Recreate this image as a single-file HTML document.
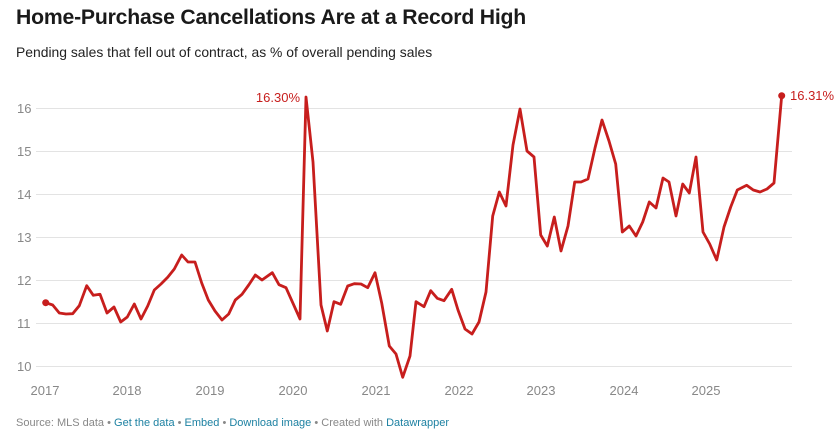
<!DOCTYPE html>
<html><head><meta charset="utf-8"><style>
body{margin:0;background:#fff;width:839px;height:435px;overflow:hidden;font-family:"Liberation Sans",Arial,sans-serif}
.t{position:absolute;left:16px;top:6px;font-size:21.2px;font-weight:bold;color:#1a1a1a;letter-spacing:-0.2px}
.s{position:absolute;left:16px;top:44px;font-size:13.9px;color:#222}
.f{position:absolute;left:16px;top:417px;font-size:11px;color:#888}
.f a{color:#1d81a2;text-decoration:none}
</style></head><body>
<div class="t">Home-Purchase Cancellations Are at a Record High</div>
<div class="s">Pending sales that fell out of contract, as % of overall pending sales</div>
<svg width="839" height="435" style="position:absolute;left:0;top:0" font-family="Liberation Sans, Arial, sans-serif">
<g stroke="#e3e3e3" stroke-width="1">
<line x1="36" x2="792" y1="108.5" y2="108.5"/><line x1="36" x2="792" y1="151.5" y2="151.5"/>
<line x1="36" x2="792" y1="194.5" y2="194.5"/><line x1="36" x2="792" y1="237.5" y2="237.5"/>
<line x1="36" x2="792" y1="280.5" y2="280.5"/><line x1="36" x2="792" y1="323.5" y2="323.5"/>
<line x1="36" x2="792" y1="366.5" y2="366.5"/>
</g>
<g fill="#888" font-size="13">
<text x="17" y="113">16</text><text x="17" y="156">15</text><text x="17" y="199">14</text>
<text x="17" y="242">13</text><text x="17" y="285">12</text><text x="17" y="328">11</text><text x="17" y="371">10</text>
</g>
<g fill="#888" font-size="13" text-anchor="middle">
<text x="45" y="395">2017</text><text x="127" y="395">2018</text><text x="210" y="395">2019</text>
<text x="293" y="395">2020</text><text x="376" y="395">2021</text><text x="459" y="395">2022</text>
<text x="541" y="395">2023</text><text x="624" y="395">2024</text><text x="706" y="395">2025</text>
</g>
<polyline fill="none" stroke="#c71e1d" stroke-width="2.8" stroke-linejoin="round" points="45.7,302.7 52.7,305 59.3,313 66,314 72.7,313.7 79.3,305.7 86.7,285.7 93.3,295.3 100,294.3 107,313 114,307 120.7,322 127.3,317 134.3,304 141,319 147.7,306 154.3,290 161,284 167.7,277.3 174.3,269 181.7,255 188,262 195,262 201.7,283 208.3,300 215,311 222,320 228.7,314 235.3,300 242,294.3 248.7,285 255.3,275 262,280 272.3,272.7 279,284.7 286,287.7 300,319 306,97 313,162 321,305 327.3,331 334,301.7 340.7,304.3 347.7,286 354.3,283.7 361,284 367.7,287.7 375,272.7 381.7,303 389.3,346 396,354 402.7,377.3 410,356 416,301.7 424,306.7 430.7,290.7 437.3,298.3 444,300.7 451.7,289.3 458,310 465,329 472,334 479,322 486,292 492.7,216 499.3,192 506,206 513,145 520,109 527,151 534,157 540.7,235 547.3,246 554.3,217 561,251 568,226 574.7,182 581,182 588,179 595,148 602,120 609,141 615.7,164 622.3,232 629.3,226 636,236 642.7,222 649.3,202 656,208 663,178 669,182 676,216 682.7,184 689.3,193 696,157 703,232 709.7,244 716.7,260 724,227 730.7,207 737.3,190 746.7,185.3 753.3,190 760,192 767,189 774,183 781.7,95.7"/>
<circle cx="45.7" cy="302.7" r="3.5" fill="#c71e1d"/>
<circle cx="781.7" cy="95.7" r="3.5" fill="#c71e1d"/>
<text x="300" y="102" fill="#c71e1d" font-size="13" text-anchor="end">16.30%</text>
<text x="790" y="100" fill="#c71e1d" font-size="13">16.31%</text>
</svg>
<div class="f">Source: MLS data • <a>Get the data</a> • <a>Embed</a> • <a>Download image</a> • Created with <a>Datawrapper</a></div>
</body></html>
